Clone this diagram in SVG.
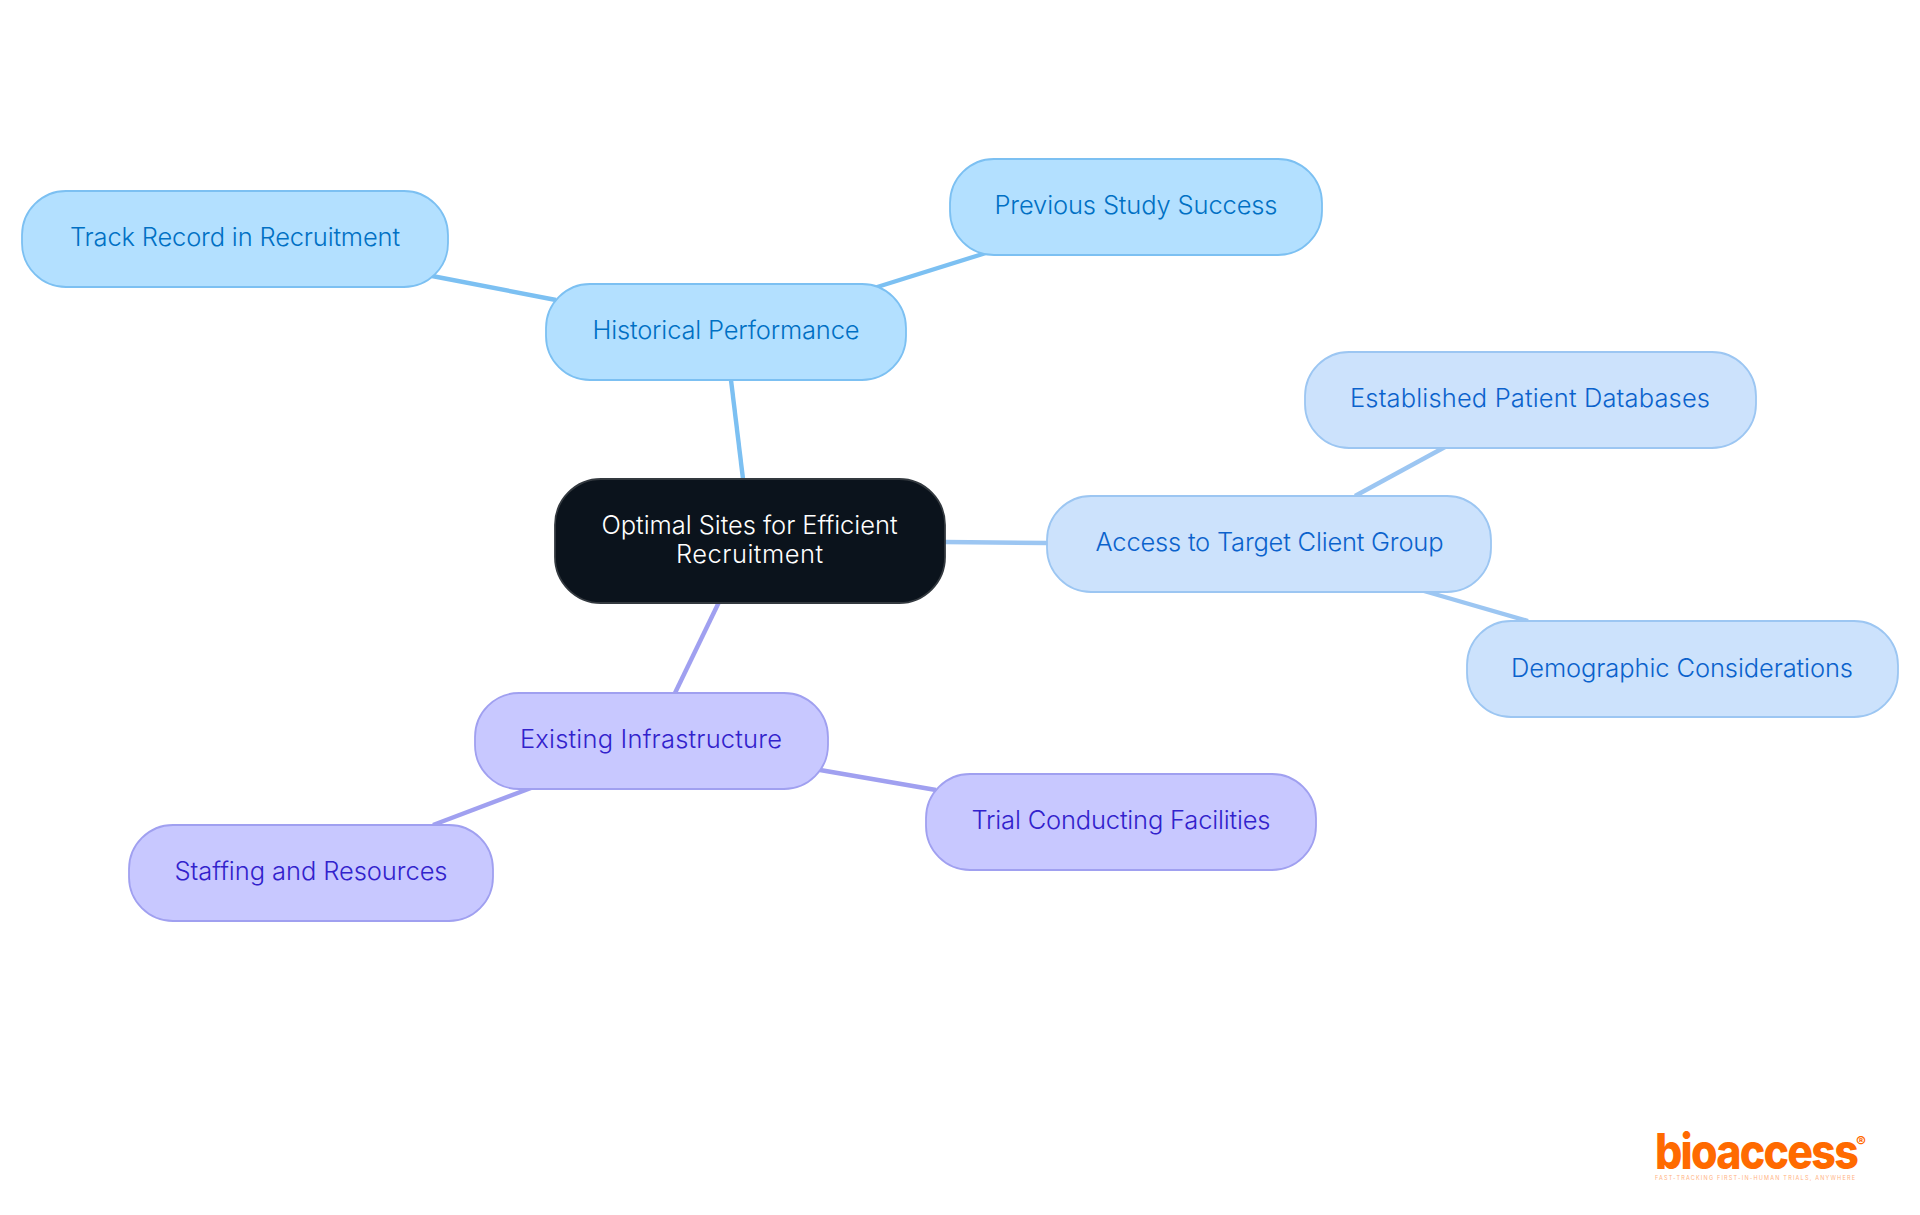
<svg xmlns="http://www.w3.org/2000/svg" width="1920" height="1215" viewBox="0 0 1920 1215">
<style>
text{font-family:Inter,"Noto Sans",sans-serif;font-size:25.5px;font-weight:350;text-anchor:middle}
.n{stroke-width:1.8}
.sky rect{fill:#b3e0ff;stroke:#7cc0f2}.sky text{fill:#0070c4}
.blue rect{fill:#cce2fc;stroke:#9cc6f2}.blue text{fill:#0b62cc}
.vio rect{fill:#c8c8ff;stroke:#a0a0f0}.vio text{fill:#3222cc}
#connectors line{stroke-width:4.4;fill:none}
#logo text{fill:#ff6a00}
</style>
<rect width="1920" height="1215" fill="#fff"/>
<g id="connectors">
<line x1="743" y1="479" x2="731" y2="380" stroke="#7cc0f2"/>
<line x1="556" y1="300" x2="432" y2="276" stroke="#7cc0f2"/>
<line x1="874" y1="288" x2="986" y2="253" stroke="#7cc0f2"/>
<line x1="945" y1="542" x2="1047" y2="543" stroke="#9cc6f2"/>
<line x1="1355" y1="496" x2="1445" y2="447" stroke="#9cc6f2"/>
<line x1="1424" y1="591" x2="1528" y2="621" stroke="#9cc6f2"/>
<line x1="719" y1="602" x2="675" y2="693" stroke="#a0a0f0"/>
<line x1="820" y1="770" x2="936" y2="790" stroke="#a0a0f0"/>
<line x1="531" y1="788" x2="433" y2="825" stroke="#a0a0f0"/>
</g>
<g id="central"><rect x="555" y="479" width="390" height="124" rx="46" fill="#0b131c" stroke="#33393f" stroke-width="1.8"/>
<text fill="#fff" x="749.5" y="533.5" textLength="296">Optimal Sites for Efficient</text><text fill="#fff" x="749.5" y="562.5" textLength="147">Recruitment</text></g>
<g id="historical" class="sky n"><rect x="546" y="284" width="360" height="96" rx="44"/><text x="726" y="338.5" textLength="267">Historical Performance</text></g>
<g id="track" class="sky n"><rect x="22" y="191" width="426" height="96" rx="44"/><text x="235" y="245.5" textLength="330">Track Record in Recruitment</text></g>
<g id="previous" class="sky n"><rect x="950" y="159" width="372" height="96" rx="44"/><text x="1136" y="213.5" textLength="283">Previous Study Success</text></g>
<g id="access" class="blue n"><rect x="1047" y="496" width="444" height="96" rx="44"/><text x="1269.5" y="550.5" textLength="348">Access to Target Client Group</text></g>
<g id="databases" class="blue n"><rect x="1305" y="352" width="451" height="96" rx="44"/><text x="1530" y="406.5" textLength="360">Established Patient Databases</text></g>
<g id="demographic" class="blue n"><rect x="1467" y="621" width="431" height="96" rx="44"/><text x="1682" y="676.5" textLength="342">Demographic Considerations</text></g>
<g id="infrastructure" class="vio n"><rect x="475" y="693" width="353" height="96" rx="44"/><text x="651" y="747.5" textLength="262">Existing Infrastructure</text></g>
<g id="trial" class="vio n"><rect x="926" y="774" width="390" height="96" rx="44"/><text x="1121" y="829" textLength="299">Trial Conducting Facilities</text></g>
<g id="staffing" class="vio n"><rect x="129" y="825" width="364" height="96" rx="44"/><text x="311" y="880" textLength="273">Staffing and Resources</text></g>
<g id="logo"><text x="1756" y="1169" style="font-size:49px;font-weight:800;letter-spacing:-2px" textLength="202" lengthAdjust="spacingAndGlyphs">bioaccess</text>
<text x="1861" y="1147" style="font-size:15px;font-weight:700">®</text>
<text x="1755" y="1180" style="font-size:5.5px;font-weight:400;fill:#ffb27f" textLength="200">FAST-TRACKING FIRST-IN-HUMAN TRIALS, ANYWHERE</text></g>
</svg>
